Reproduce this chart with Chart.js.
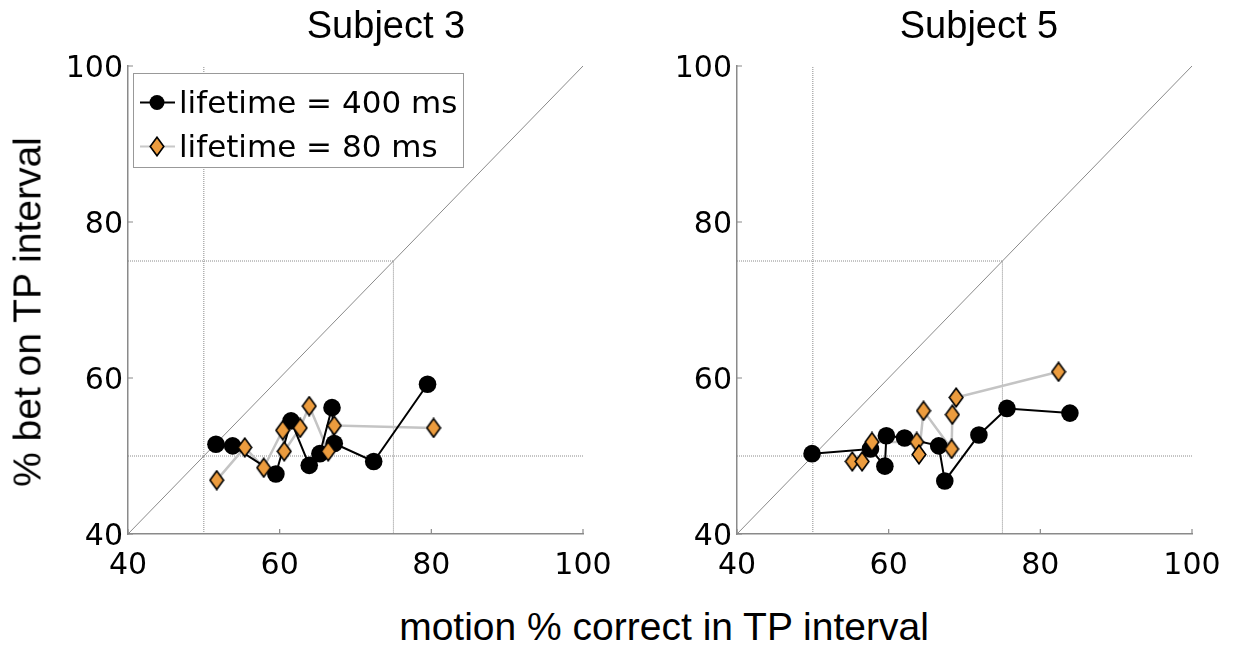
<!DOCTYPE html>
<html>
<head>
<meta charset="utf-8">
<script src="https://cdn.jsdelivr.net/npm/chart.js@4.4.1/dist/chart.umd.min.js"></script>
<style>
  body { margin: 0; background: #fff; width: 1233px; height: 646px; position: relative; overflow: hidden; }
  canvas { position: absolute; top: 0; }
  .lbl { position: absolute; font-family: "Liberation Sans", Arial, sans-serif; color: #000; white-space: nowrap; line-height: 1; }
</style>
</head>
<body>
<canvas id="s3" width="620" height="600" style="left:0"></canvas>
<canvas id="s5" width="620" height="600" style="left:609px"></canvas>
<div class="lbl" id="title3" style="font-size:38px; left:386px; top:6px; transform:translateX(-50%)"></div>
<div class="lbl" id="title5" style="font-size:38px; left:979px; top:6px; transform:translateX(-50%)"></div>
<div class="lbl" id="xlabel" style="font-size:39px; left:664px; top:607px; transform:translateX(-50%)"></div>
<div class="lbl" id="ylabel" style="font-size:39px; left:27px; top:312px; transform:translate(-50%,-50%) rotate(-90deg)"></div>
<script>
// labels
const subjectTitles = ['Subject 3', 'Subject 5'];
const seriesLabels = ['lifetime = 400 ms', 'lifetime = 80 ms'];
const xTitle = 'motion % correct in TP interval';
const yTitle = '% bet on TP interval';
const axisTicks = [40, 60, 80, 100];
const chance = 50;
const criterion = 75;

// subject 3
const s3x400 = [51.6, 53.8, 59.5, 61.5, 63.9, 65.3, 66.9, 67.2, 72.4, 79.5];
const s3y400 = [51.5, 51.3, 47.7, 54.5, 48.8, 50.3, 56.2, 51.6, 49.3, 59.2];
const s3x80 = [51.7, 55.4, 57.9, 60.4, 60.6, 62.7, 63.9, 66.4, 67.2, 80.3];
const s3y80 = [46.9, 51.1, 48.5, 53.3, 50.6, 53.6, 56.4, 50.6, 53.9, 53.6];

// subject 5
const s5x400 = [49.9, 57.6, 59.5, 59.7, 62.1, 66.6, 67.4, 71.9, 75.6, 83.9];
const s5y400 = [50.3, 50.9, 48.7, 52.6, 52.3, 51.3, 46.8, 52.7, 56.1, 55.5];
const s5x80 = [55.2, 56.5, 57.8, 63.7, 64.0, 64.6, 68.3, 68.4, 68.9, 82.4];
const s5y80 = [49.3, 49.3, 51.8, 51.8, 50.2, 55.8, 50.9, 55.3, 57.5, 60.8];

document.getElementById('title3').textContent = subjectTitles[0];
document.getElementById('title5').textContent = subjectTitles[1];
document.getElementById('xlabel').textContent = xTitle;
document.getElementById('ylabel').textContent = yTitle;

const orange = '#ec9c3e';
const tickFont = { family: 'DejaVu Sans', size: 30 };

function diamondMarker() {
  const c = document.createElement('canvas');
  c.width = 16; c.height = 21;
  const g = c.getContext('2d');
  g.beginPath();
  g.moveTo(8, 1.2); g.lineTo(14.8, 10.5); g.lineTo(8, 19.8); g.lineTo(1.2, 10.5);
  g.closePath();
  g.fillStyle = orange; g.fill();
  g.lineWidth = 1.6; g.strokeStyle = '#000'; g.stroke();
  return c;
}
const diamond = diamondMarker();

const pts = (xs, ys) => xs.map((x, i) => ({ x: x, y: ys[i] }));
const lo = axisTicks[0], hi = axisTicks[axisTicks.length - 1];

function guide(data, dash) {
  return { data: data, showLine: true, borderColor: '#8a8a8a', borderWidth: 1,
           borderDash: dash, pointRadius: 0, order: 3 };
}

// inward tick marks
const innerTicks = {
  id: 'innerTicks',
  beforeDatasetsDraw(chart) {
    const ctx = chart.ctx, a = chart.chartArea;
    ctx.save();
    ctx.strokeStyle = '#8a8a8a';
    ctx.lineWidth = 1.2;
    axisTicks.forEach(v => {
      const px = chart.scales.x.getPixelForValue(v);
      const py = chart.scales.y.getPixelForValue(v);
      ctx.beginPath();
      ctx.moveTo(px, a.bottom); ctx.lineTo(px, a.bottom - 5);
      ctx.moveTo(a.left, py); ctx.lineTo(a.left + 5, py);
      ctx.stroke();
    });
    ctx.restore();
  }
};

// boxed legend inside plot area
const boxLegend = {
  id: 'boxLegend',
  afterDatasetsDraw(chart, args, opts) {
    if (!opts.show) return;
    const ctx = chart.ctx, a = chart.chartArea;
    const x0 = a.left + 5, y0 = a.top + 7, w = 330, h = 94;
    ctx.save();
    ctx.fillStyle = '#fff';
    ctx.fillRect(x0, y0, w, h);
    ctx.strokeStyle = '#999';
    ctx.lineWidth = 1;
    ctx.strokeRect(x0 + 0.5, y0 + 0.5, w, h);
    const rows = [y0 + 29.5, y0 + 73.5];
    // row 1: black line with circle
    ctx.strokeStyle = '#000'; ctx.lineWidth = 2;
    ctx.beginPath(); ctx.moveTo(x0 + 7, rows[0]); ctx.lineTo(x0 + 42, rows[0]); ctx.stroke();
    ctx.fillStyle = '#000';
    ctx.beginPath(); ctx.arc(x0 + 24, rows[0], 7.5, 0, Math.PI * 2); ctx.fill();
    // row 2: grey line with diamond
    ctx.strokeStyle = '#c8c8c8'; ctx.lineWidth = 2;
    ctx.beginPath(); ctx.moveTo(x0 + 7, rows[1]); ctx.lineTo(x0 + 42, rows[1]); ctx.stroke();
    ctx.drawImage(diamond, x0 + 24 - diamond.width / 2, rows[1] - diamond.height / 2);
    ctx.fillStyle = '#000';
    ctx.font = '31px "DejaVu Sans"';
    ctx.textBaseline = 'alphabetic';
    ctx.textAlign = 'left';
    ctx.fillText(seriesLabels[0], x0 + 46, y0 + 40);
    ctx.fillText(seriesLabels[1], x0 + 46, y0 + 84);
    ctx.restore();
  }
};

function makeChart(id, x400, y400, x80, y80, showLegend) {
  return new Chart(document.getElementById(id), {
    type: 'scatter',
    data: {
      datasets: [
        { label: seriesLabels[1], data: pts(x80, y80), showLine: false,
          pointStyle: diamond, pointRadius: 9, order: 0 },
        { label: seriesLabels[0], data: pts(x400, y400), showLine: true,
          borderColor: '#000', borderWidth: 2, pointRadius: 8.8,
          pointBackgroundColor: '#000', pointBorderColor: '#000', pointBorderWidth: 0, order: 1 },
        { label: seriesLabels[1], data: pts(x80, y80), showLine: true,
          borderColor: '#c4c4c4', borderWidth: 2.5, pointRadius: 0, order: 2 },
        guide([{ x: lo, y: lo }, { x: hi, y: hi }], []),
        guide([{ x: chance, y: lo }, { x: chance, y: hi }], [1, 1]),
        guide([{ x: lo, y: chance }, { x: hi, y: chance }], [1, 1]),
        guide([{ x: lo, y: criterion }, { x: criterion, y: criterion }, { x: criterion, y: lo }], [1, 1])
      ]
    },
    options: {
      responsive: false,
      animation: false,
      devicePixelRatio: 1,
      layout: { padding: { left: 68, right: 37, top: 66, bottom: 16 } },
      plugins: {
        legend: { display: false },
        tooltip: { enabled: false },
        boxLegend: { show: showLegend }
      },
      scales: {
        x: {
          type: 'linear', min: lo, max: hi,
          afterBuildTicks: s => { s.ticks = axisTicks.map(v => ({ value: v })); },
          ticks: { font: tickFont, color: '#000', padding: 14, maxRotation: 0, autoSkip: false },
          grid: { display: false, drawTicks: false },
          border: { display: true, color: '#8a8a8a', width: 1.5 },
          afterFit: s => { s.height = 50; s.paddingLeft = 0; s.paddingRight = 0; }
        },
        y: {
          type: 'linear', min: lo, max: hi,
          afterBuildTicks: s => { s.ticks = axisTicks.map(v => ({ value: v })); },
          ticks: { font: tickFont, color: '#000', padding: 5, labelOffset: 3, autoSkip: false },
          grid: { display: false, drawTicks: false },
          border: { display: true, color: '#8a8a8a', width: 1.5 },
          afterFit: s => { s.width = 60; s.paddingTop = 0; s.paddingBottom = 0; }
        }
      }
    },
    plugins: [innerTicks, boxLegend]
  });
}

makeChart('s3', s3x400, s3y400, s3x80, s3y80, true);
makeChart('s5', s5x400, s5y400, s5x80, s5y80, false);
</script>
</body>
</html>
